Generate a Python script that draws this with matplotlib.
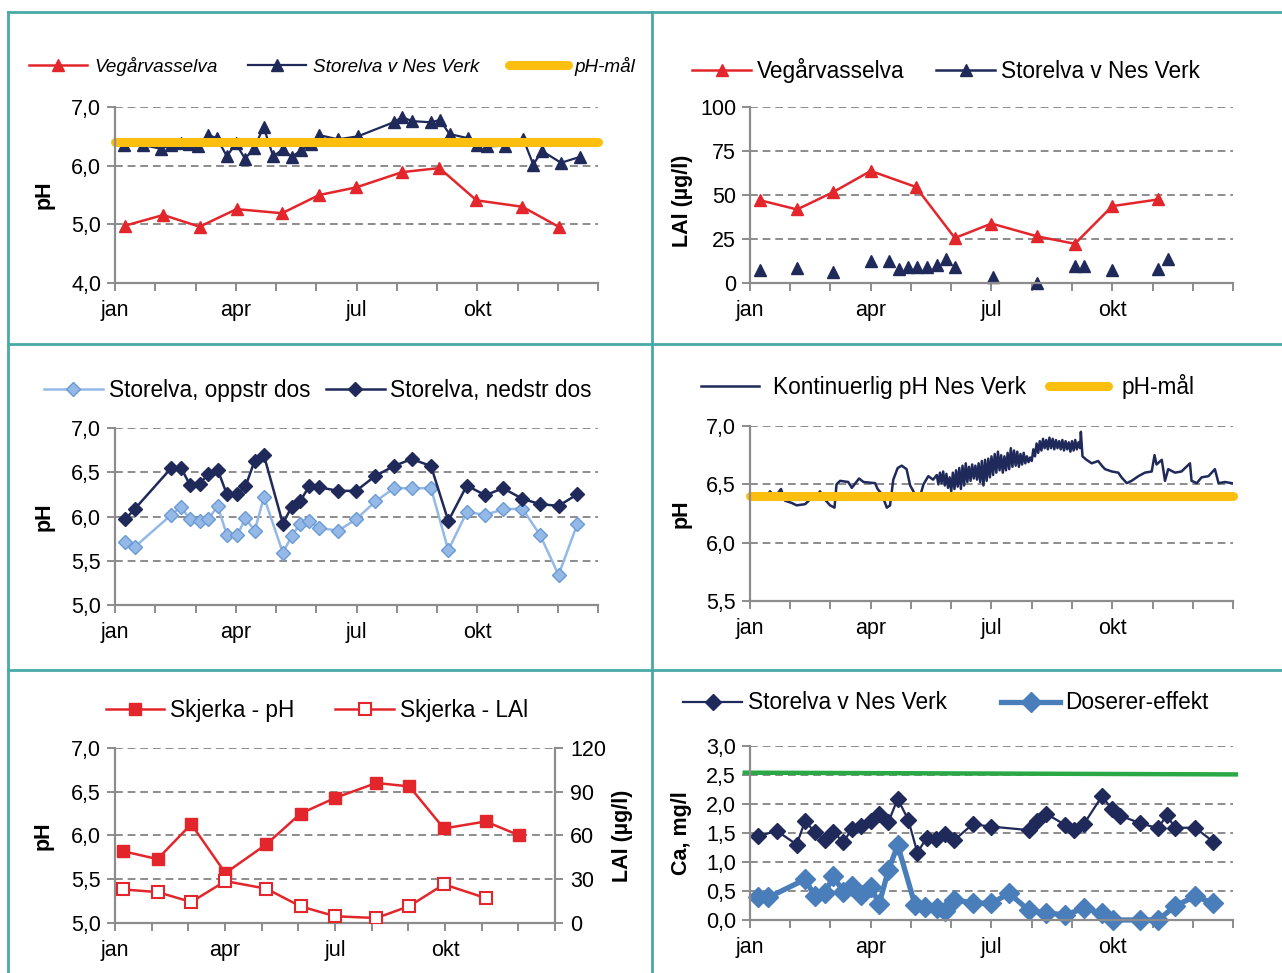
import matplotlib
matplotlib.use('Agg')
import matplotlib.pyplot as plt
from matplotlib.lines import Line2D
from matplotlib.ticker import FuncFormatter

plt.rcParams['font.family'] = ['Liberation Sans', 'DejaVu Sans']
plt.rcParams['font.size'] = 15.5

# colours
NAVY = '#1f2a5a'
RED = '#e3262b'
YELLOW = '#fcbf0f'
LIGHTBLUE = '#95b9e6'
LIGHTBLUE_EDGE = '#6a9ad6'
MIDBLUE = '#4a7ebb'
GREEN = '#2aa845'
TEAL = '#48a9a6'
GREY = '#8c8c8c'

MONTHS = ['jan', '', '', 'apr', '', '', 'jul', '', '', 'okt', '', '', '']
PH_TARGET = 6.4
LEG_SIZE = 16.3

# --- panel 1: pH, Vegårvasselva and Storelva v Nes Verk (x in months from 1 jan)
veg_ph_x = [0.26, 1.2, 2.1, 3.02, 4.15, 5.07, 5.99, 7.13, 8.06, 8.98, 10.12, 11.02]
veg_ph_y = [4.98, 5.16, 4.96, 5.26, 5.19, 5.50, 5.63, 5.89, 5.96, 5.41, 5.30, 4.96]
nes_ph_x = [0.22, 0.69, 1.14, 1.39, 1.64, 1.85, 2.05, 2.32, 2.53, 2.78, 3.0, 3.23, 3.46,
            3.69, 3.93, 4.17, 4.39, 4.62, 4.87, 5.08, 5.54, 6.03, 6.92, 7.14, 7.37, 7.85,
            8.07, 8.31, 8.76, 9.0, 9.24, 9.7, 10.14, 10.39, 10.61, 11.08, 11.55]
nes_ph_y = [6.35, 6.35, 6.29, 6.35, 6.39, 6.37, 6.33, 6.52, 6.47, 6.16, 6.38, 6.12, 6.30,
            6.66, 6.16, 6.28, 6.15, 6.26, 6.37, 6.52, 6.45, 6.50, 6.74, 6.83, 6.76, 6.74,
            6.78, 6.54, 6.47, 6.36, 6.33, 6.34, 6.46, 6.02, 6.25, 6.05, 6.15]

# --- panel 2: LAl
veg_lal_x = [0.24, 1.17, 2.07, 3.0, 4.12, 5.09, 6.0, 7.14, 8.07, 9.0, 10.14]
veg_lal_y = [47.1, 41.8, 51.7, 63.7, 54.6, 25.6, 33.8, 26.5, 22.3, 43.7, 47.5]
nes_lal_x = [0.24, 1.17, 2.07, 3.0, 3.45, 3.7, 3.92, 4.14, 4.4, 4.64, 4.87, 5.09, 6.04,
             7.14, 8.07, 8.3, 9.0, 10.14, 10.39]
nes_lal_y = [7.4, 8.4, 6.5, 12.8, 12.8, 7.8, 9.4, 9.4, 9.0, 10.3, 13.5, 9.4, 3.2,
             0.2, 9.7, 9.7, 7.4, 7.8, 13.5]

# --- panel 3: pH upstream / downstream of the doser
dos_x = [0.26, 0.50, 1.40, 1.64, 1.86, 2.10, 2.32, 2.55, 2.78, 3.04, 3.24, 3.47, 3.70,
         4.17, 4.39, 4.60, 4.83, 5.07, 5.55, 5.99, 6.47, 6.93, 7.37, 7.85, 8.28, 8.74,
         9.2, 9.64, 10.12, 10.56, 11.02, 11.48]
ned_ph = [5.97, 6.09, 6.55, 6.55, 6.36, 6.37, 6.48, 6.53, 6.25, 6.25, 6.34, 6.63, 6.69,
          5.92, 6.11, 6.17, 6.35, 6.33, 6.29, 6.29, 6.46, 6.57, 6.65, 6.57, 5.95, 6.35,
          6.24, 6.32, 6.20, 6.14, 6.12, 6.25]
opp_ph = [5.71, 5.66, 6.02, 6.11, 5.97, 5.95, 5.97, 6.12, 5.79, 5.79, 5.98, 5.84, 6.22,
          5.59, 5.78, 5.92, 5.95, 5.87, 5.84, 5.97, 6.17, 6.32, 6.32, 6.32, 5.62, 6.05,
          6.02, 6.08, 6.09, 5.79, 5.34, 5.91]

# --- panel 4: continuous pH at Nes Verk
kont_x = [0.0, 0.12, 0.21, 0.37, 0.5, 0.62, 0.77, 0.87, 1.04, 1.16, 1.37, 1.49, 1.61,
          1.74, 1.86, 1.99, 2.10, 2.15, 2.24, 2.44, 2.53, 2.71, 2.82, 3.11, 3.17, 3.27,
          3.40, 3.48, 3.56, 3.67, 3.77, 3.89, 3.98, 4.06, 4.14, 4.22, 4.31, 4.43, 4.55,
          4.64, 4.68, 4.72, 4.76, 4.80, 4.84, 4.88, 4.92, 4.96, 5.00, 5.04, 5.08, 5.12,
          5.16, 5.20, 5.24, 5.28, 5.32, 5.36, 5.40, 5.44, 5.48, 5.52, 5.56, 5.60, 5.64,
          5.68, 5.72, 5.76, 5.80, 5.84, 5.88, 5.92, 5.96, 6.00, 6.04, 6.08, 6.12, 6.16,
          6.20, 6.24, 6.28, 6.32, 6.36, 6.40, 6.44, 6.48, 6.52, 6.56, 6.60, 6.64, 6.68,
          6.72, 6.76, 6.80, 6.84, 6.88, 6.92, 6.96, 7.00, 7.04, 7.08, 7.12, 7.16, 7.20,
          7.24, 7.28, 7.32, 7.36, 7.40, 7.44, 7.48, 7.52, 7.56, 7.60, 7.64, 7.68, 7.72,
          7.76, 7.80, 7.84, 7.88, 7.92, 7.96, 8.00, 8.04, 8.08, 8.12, 8.16, 8.20, 8.22,
          8.26, 8.36, 8.49, 8.65, 8.74, 8.82, 8.99, 9.15, 9.23, 9.36, 9.48, 9.65, 9.81,
          9.98, 10.05, 10.10, 10.23, 10.31, 10.39, 10.56, 10.72, 10.93, 10.97, 11.10,
          11.22, 11.39, 11.55, 11.64, 11.80, 11.97]
kont_y = [6.37, 6.39, 6.37, 6.38, 6.44, 6.39, 6.46, 6.36, 6.34, 6.32, 6.33, 6.37, 6.38,
          6.44, 6.37, 6.32, 6.30, 6.50, 6.53, 6.52, 6.47, 6.55, 6.52, 6.51, 6.46, 6.42,
          6.30, 6.32, 6.54, 6.64, 6.66, 6.63, 6.49, 6.44, 6.37, 6.39, 6.50, 6.57, 6.54,
          6.58, 6.50, 6.60, 6.51, 6.61, 6.49, 6.59, 6.47, 6.56, 6.44, 6.60, 6.46, 6.62,
          6.48, 6.64, 6.46, 6.66, 6.49, 6.68, 6.52, 6.65, 6.53, 6.67, 6.55, 6.66, 6.54,
          6.68, 6.52, 6.70, 6.49, 6.71, 6.53, 6.72, 6.56, 6.74, 6.58, 6.76, 6.60, 6.78,
          6.62, 6.75, 6.60, 6.74, 6.62, 6.77, 6.63, 6.81, 6.65, 6.79, 6.66, 6.78, 6.65,
          6.76, 6.67, 6.77, 6.68, 6.74, 6.69, 6.73, 6.70, 6.80, 6.74, 6.85, 6.77, 6.87,
          6.79, 6.89, 6.81, 6.88, 6.80, 6.90, 6.81, 6.89, 6.80, 6.88, 6.81, 6.87, 6.80,
          6.88, 6.79, 6.87, 6.80, 6.86, 6.78, 6.87, 6.79, 6.88, 6.80, 6.86, 6.81, 6.95,
          6.74, 6.71, 6.68, 6.70, 6.66, 6.63, 6.61, 6.60, 6.56, 6.51, 6.53, 6.57, 6.60,
          6.61, 6.75, 6.67, 6.71, 6.53, 6.63, 6.60, 6.61, 6.68, 6.53, 6.51,
          6.56, 6.57, 6.63, 6.51, 6.52, 6.51]

# --- panel 5: Skjerka
skj_ph_x = [0.22, 1.16, 2.08, 3.01, 4.13, 5.06, 6.01, 7.13, 8.03, 8.97, 10.11, 11.03]
skj_ph_y = [5.82, 5.73, 6.13, 5.57, 5.90, 6.25, 6.43, 6.60, 6.56, 6.08, 6.16, 6.00]
skj_lal_y = [23.0, 21.2, 14.4, 28.7, 23.5, 11.4, 4.6, 3.4, 11.6, 26.5, 17.1]

# --- panel 6: Ca
nes_ca_x = [0.21, 0.66, 1.16, 1.37, 1.61, 1.86, 2.07, 2.32, 2.53, 2.77, 3.0, 3.21, 3.44,
            3.67, 3.93, 4.16, 4.39, 4.61, 4.84, 5.08, 5.53, 6.0, 6.92, 7.13, 7.36, 7.83,
            8.06, 8.3, 8.74, 8.99, 9.19, 9.69, 10.14, 10.35, 10.56, 11.06, 11.51]
nes_ca_y = [1.44, 1.54, 1.30, 1.71, 1.51, 1.38, 1.52, 1.34, 1.57, 1.62, 1.71, 1.83, 1.69,
            2.09, 1.73, 1.16, 1.42, 1.40, 1.48, 1.38, 1.65, 1.61, 1.55, 1.71, 1.83, 1.64,
            1.55, 1.66, 2.13, 1.92, 1.80, 1.67, 1.58, 1.81, 1.59, 1.59, 1.35]
dose_x = [0.21, 0.46, 1.37, 1.61, 1.86, 2.07, 2.32, 2.53, 2.77, 3.0, 3.21, 3.44, 3.67,
          4.10, 4.35, 4.64, 4.84, 5.08, 5.53, 6.0, 6.44, 6.92, 7.36, 7.83, 8.3, 8.74,
          9.03, 9.69, 10.14, 10.56, 11.06, 11.51]
dose_y = [0.39, 0.39, 0.70, 0.41, 0.46, 0.75, 0.49, 0.58, 0.43, 0.57, 0.28, 0.86, 1.29,
          0.26, 0.23, 0.20, 0.16, 0.35, 0.29, 0.29, 0.46, 0.17, 0.12, 0.09, 0.20, 0.12,
          0.0, 0.0, 0.0, 0.24, 0.41, 0.29]
ca_limit_x = [-0.13, 12.07]
ca_limit_y = [2.54, 2.51]


def comma(v, pos):
    return f'{v:.1f}'.replace('.', ',')


def style_axes(ax, ylim, yticks, fmt=True):
    ax.set_xlim(0, 12)
    ax.set_xticks(range(13))
    ax.set_xticklabels(MONTHS)
    ax.set_ylim(*ylim)
    ax.set_yticks(yticks)
    if fmt:
        ax.yaxis.set_major_formatter(FuncFormatter(comma))
    for s in ['top', 'right']:
        ax.spines[s].set_visible(False)
    for s in ['left', 'bottom']:
        ax.spines[s].set_color(GREY)
        ax.spines[s].set_linewidth(1.6)
    ax.tick_params(axis='both', direction='out', length=6, width=1.4, color=GREY)
    ax.tick_params(axis='x', pad=6)
    ax.tick_params(axis='y', pad=4)
    ax.yaxis.grid(True, linestyle=(0, (4, 2.5)), color=GREY, linewidth=1.4)
    ax.set_axisbelow(True)


def legend(handles, labels, x, y, **kw):
    opts = dict(loc='center', ncol=len(handles), frameon=False, handlelength=2.6,
                handletextpad=0.25, columnspacing=1.0, fontsize=LEG_SIZE)
    opts.update(kw)
    fig.legend(handles, labels, bbox_to_anchor=(x, y), **opts)


fig = plt.figure(figsize=(12.82, 9.73), dpi=100)

# frame lines
for seg in [((0.0062, 1), (0.9877, 0.9877)), ((0.0062, 1), (0.6465, 0.6465)),
            ((0.0062, 1), (0.3114, 0.3114)), ((0.0062, 0.0062), (0, 0.9877)),
            ((0.5086, 0.5086), (0, 0.9877))]:
    fig.add_artist(Line2D(seg[0], seg[1], color=TEAL, linewidth=2))

# panel 1
ax1 = fig.add_axes([0.0897, 0.7091, 0.3768, 0.1809])
style_axes(ax1, (4, 7), [4, 5, 6, 7])
ax1.plot(veg_ph_x, veg_ph_y, color=RED, lw=1.8, marker='^', ms=9, label='Vegårvasselva')
ax1.plot(nes_ph_x, nes_ph_y, color=NAVY, lw=1.6, marker='^', ms=9, label='Storelva v Nes Verk')
ax1.plot([0, 12], [PH_TARGET, PH_TARGET], color=YELLOW, lw=6.5, solid_capstyle='round',
         clip_on=False, label='pH-mål')
ax1.set_ylabel('pH', fontweight='bold')
ax1.yaxis.set_label_coords(-0.125, 0.5)
h, l = ax1.get_legend_handles_labels()
legend(h, l, 0.259, 0.932, handlelength=3.1, columnspacing=1.6, handletextpad=0.35,
       prop={'style': 'italic', 'size': 13.6})

# panel 2
ax2 = fig.add_axes([0.5850, 0.7091, 0.3768, 0.1809])
style_axes(ax2, (0, 100), [0, 25, 50, 75, 100], fmt=False)
ax2.plot(veg_lal_x, veg_lal_y, color=RED, lw=1.8, marker='^', ms=9)
ax2.plot(nes_lal_x, nes_lal_y, color=NAVY, ls='none', marker='^', ms=9, clip_on=False)
ax2.set_ylabel('LAl (µg/l)', fontweight='bold')
ax2.yaxis.set_label_coords(-0.117, 0.47)
h2 = [Line2D([], [], color=RED, lw=1.8, marker='^', ms=9),
      Line2D([], [], color=NAVY, lw=1.8, marker='^', ms=9)]
legend(h2, ['Vegårvasselva', 'Storelva v Nes Verk'], 0.738, 0.928, columnspacing=1.4)

# panel 3
ax3 = fig.add_axes([0.0897, 0.3782, 0.3768, 0.1819])
style_axes(ax3, (5, 7), [5, 5.5, 6, 6.5, 7])
ax3.plot(dos_x, opp_ph, color=LIGHTBLUE, lw=1.8, marker='D', ms=7,
         mfc=LIGHTBLUE, mec=LIGHTBLUE_EDGE, label='Storelva, oppstr dos')
ax3.plot(dos_x, ned_ph, color=NAVY, lw=1.8, marker='D', ms=7, label='Storelva, nedstr dos')
ax3.set_ylabel('pH', fontweight='bold')
ax3.yaxis.set_label_coords(-0.125, 0.5)
h, l = ax3.get_legend_handles_labels()
legend(h, l, 0.248, 0.599, columnspacing=0.7)

# panel 4
ax4 = fig.add_axes([0.5850, 0.3823, 0.3768, 0.1799])
style_axes(ax4, (5.5, 7), [5.5, 6, 6.5, 7])
ax4.plot(kont_x, kont_y, color=NAVY, lw=1.8, label='Kontinuerlig pH Nes Verk')
ax4.plot([0, 12], [PH_TARGET, PH_TARGET], color=YELLOW, lw=6.5, solid_capstyle='round',
         clip_on=False, label='pH-mål')
ax4.set_ylabel('pH', fontweight='bold')
ax4.yaxis.set_label_coords(-0.12, 0.5)
h, l = ax4.get_legend_handles_labels()
legend(h, l, 0.739, 0.603, columnspacing=1.0, handletextpad=0.6)

# panel 5
ax5 = fig.add_axes([0.0897, 0.0514, 0.3432, 0.1799])
style_axes(ax5, (5, 7), [5, 5.5, 6, 6.5, 7])
ax5b = ax5.twinx()
ax5b.set_ylim(0, 120)
ax5b.set_yticks([0, 30, 60, 90, 120])
for s in ['top', 'left', 'bottom']:
    ax5b.spines[s].set_visible(False)
ax5b.spines['right'].set_color(GREY)
ax5b.spines['right'].set_linewidth(1.6)
ax5b.tick_params(axis='y', direction='out', length=6, width=1.4, color=GREY, pad=5)
ax5.plot(skj_ph_x, skj_ph_y, color=RED, lw=1.8, marker='s', ms=9, label='Skjerka - pH')
ax5b.plot(skj_ph_x[:len(skj_lal_y)], skj_lal_y, color=RED, lw=1.8, marker='s', ms=9,
          mfc='white', mew=1.5, label='Skjerka - LAl')
ax5.set_ylabel('pH', fontweight='bold')
ax5.yaxis.set_label_coords(-0.139, 0.5)
ax5b.set_ylabel('LAl (µg/l)', fontweight='bold')
ax5b.yaxis.set_label_coords(1.129, 0.5)
h = ax5.get_legend_handles_labels()[0] + ax5b.get_legend_handles_labels()[0]
l = ax5.get_legend_handles_labels()[1] + ax5b.get_legend_handles_labels()[1]
legend(h, l, 0.247, 0.270, columnspacing=1.8)

# panel 6
ax6 = fig.add_axes([0.5850, 0.0545, 0.3768, 0.1788])
style_axes(ax6, (0, 3), [0, 0.5, 1, 1.5, 2, 2.5, 3])
ax6.plot(nes_ca_x, nes_ca_y, color=NAVY, lw=1.6, marker='D', ms=8, label='Storelva v Nes Verk')
ax6.plot(dose_x, dose_y, color=MIDBLUE, lw=3.8, marker='D', ms=10, clip_on=False,
         label='Doserer-effekt')
ax6.plot(ca_limit_x, ca_limit_y, color=GREEN, lw=3.2, clip_on=False)
ax6.set_ylabel('Ca, mg/l', fontweight='bold')
ax6.yaxis.set_label_coords(-0.12, 0.5)
h, l = ax6.get_legend_handles_labels()
legend(h, l, 0.738, 0.2775, columnspacing=2.4)

fig.savefig('out.png', dpi=100)
